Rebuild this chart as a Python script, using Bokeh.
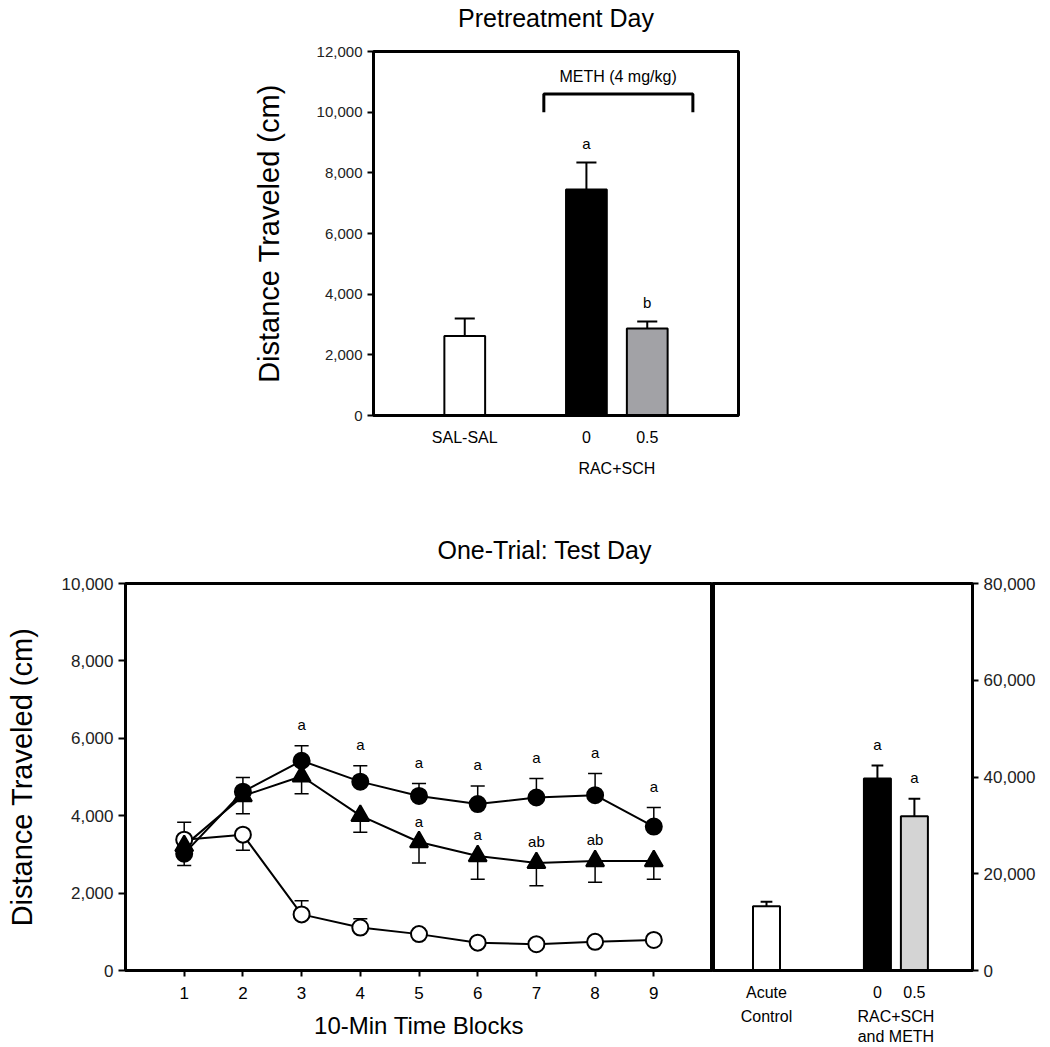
from bokeh.plotting import figure
from bokeh.layouts import column, row
from bokeh.models import (Range1d, LinearAxis, FixedTicker, NumeralTickFormatter,
                          ColumnDataSource, LabelSet, Span, Title)
from bokeh.core.properties import value
from bokeh.embed import file_html
from bokeh.resources import INLINE

FONT = "Liberation Sans"

# ---------------- data: Pretreatment Day ----------------
pre_groups = ["SAL-SAL", "0", "0.5"]
pre_means = [2620, 7450, 2870]
pre_sems = [580, 890, 230]
pre_sig = ["", "a", "b"]
pre_colors = ["white", "black", "#a2a2a6"]

# ---------------- data: One-Trial Test Day (time course) ----------------
blocks = [1, 2, 3, 4, 5, 6, 7, 8, 9]
meth0_mean = [3020, 4620, 5420, 4880, 4510, 4300, 4470, 4530, 3720]
meth0_sem = [310, 370, 390, 410, 320, 470, 490, 560, 490]
meth0_dir = [-1, 1, 1, 1, 1, 1, 1, 1, 1]
meth0_sig = ["", "", "a", "a", "a", "a", "a", "a", "a"]

meth05_mean = [3220, 4510, 5020, 4000, 3320, 2960, 2780, 2830, 2830]
meth05_sem = [0, 460, 450, 430, 540, 600, 590, 550, 470]
meth05_dir = [-1, -1, -1, -1, -1, -1, -1, -1, -1]
meth05_sig = ["", "", "", "", "a", "a", "ab", "ab", ""]

ctrl_mean = [3380, 3510, 1450, 1110, 940, 720, 680, 740, 790]
ctrl_sem = [450, 400, 350, 230, 100, 80, 60, 70, 60]
ctrl_dir = [1, -1, 1, 1, 1, 1, 1, 1, 1]

# ---------------- data: One-Trial Test Day (total) ----------------
tot_groups = ["Acute Control", "0", "0.5"]
tot_means = [13300, 39700, 31900]
tot_sems = [900, 2700, 3600]
tot_sig = ["", "a", "a"]
tot_colors = ["white", "black", "#d4d4d4"]


def style_axis(ax, lw=3, tick_out=6):
    ax.axis_line_width = lw
    ax.axis_line_color = "black"
    ax.major_tick_line_width = 2
    ax.major_tick_line_color = "black"
    ax.minor_tick_line_color = None
    ax.major_tick_in = 0
    ax.major_tick_out = tick_out
    ax.major_label_text_font = FONT
    ax.major_label_text_color = "#222222"
    ax.axis_label_text_font = FONT
    ax.axis_label_text_font_style = "normal"
    ax.axis_label_text_color = "black"
    ax.axis_label_text_line_height = 1.0


def bare_axis(ticks, labels, standoff, size):
    ax = LinearAxis(ticker=FixedTicker(ticks=ticks),
                    major_label_overrides={t: l for t, l in zip(ticks, labels)})
    style_axis(ax, tick_out=0)
    ax.axis_line_color = None
    ax.major_tick_line_color = None
    ax.major_label_standoff = standoff
    ax.major_label_text_font_size = size
    ax.major_label_text_color = "black"
    return ax


def err_segments(x, mean, sem, direction, half):
    tip = [m + d * s for m, s, d in zip(mean, sem, direction)]
    etop = [max(m, t) for m, t in zip(mean, tip)]
    return dict(x=list(x), m=list(mean), tip=tip, x0=[xi - half for xi in x],
                x1=[xi + half for xi in x], etop=etop)


def sig_labels(src, offset, **kw):
    return LabelSet(x="x", y="etop", text="sig", source=src, y_offset=offset,
                    text_align="center", text_baseline="middle", text_color="black",
                    text_font=value(FONT), text_font_size="15px", **kw)


# =============== Top figure ===============
pre_pos = [1.5, 3.5, 4.5]
p1 = figure(width=1050, height=508, x_range=Range1d(0, 6), y_range=Range1d(0, 12000),
            output_backend="svg", toolbar_location=None,
            min_border_left=373, min_border_right=312, min_border_top=51, min_border_bottom=93)
p1.grid.visible = False
p1.outline_line_color = "black"
p1.outline_line_width = 3
style_axis(p1.xaxis[0], tick_out=0)
style_axis(p1.yaxis[0])
p1.xaxis.ticker = FixedTicker(ticks=pre_pos)
p1.xaxis.major_label_overrides = {pos: g for pos, g in zip(pre_pos, pre_groups)}
p1.xaxis.major_tick_line_color = None
p1.xaxis.major_label_standoff = 13
p1.xaxis.major_label_text_font_size = "16px"
p1.xaxis.major_label_text_color = "black"
p1.yaxis.ticker = FixedTicker(ticks=list(range(0, 12001, 2000)))
p1.yaxis.formatter = NumeralTickFormatter(format="0,0")
p1.yaxis.major_label_text_font_size = "15px"
p1.yaxis.major_label_standoff = 5
p1.yaxis.axis_label = "Distance Traveled (cm)"
p1.yaxis.axis_label_text_font_size = "29px"
p1.yaxis.axis_label_standoff = 29
p1.add_layout(bare_axis([4.0], ["RAC+SCH"], 11, "16px"), "below")

# title of the top panel, carried by an unticked axis above the frame
top_ax = LinearAxis(ticker=FixedTicker(ticks=[]), axis_label="Pretreatment Day")
style_axis(top_ax, tick_out=0)
top_ax.axis_line_color = None
top_ax.major_label_standoff = 0
top_ax.axis_label_text_font_size = "25px"
top_ax.axis_label_standoff = 20
p1.add_layout(top_ax, "above")

d1 = err_segments(pre_pos, pre_means, pre_sems, [1, 1, 1], 0.165)
d1.update(color=pre_colors, sig=pre_sig)
src1 = ColumnDataSource(d1)
p1.segment(x0="x", y0="m", x1="x", y1="tip", source=src1, line_width=2, line_color="black")
p1.segment(x0="x0", y0="tip", x1="x1", y1="tip", source=src1, line_width=2, line_color="black")
p1.vbar(x="x", top="m", bottom=0, width=0.67, source=src1, fill_color="color",
        line_color="black", line_width=2)
p1.add_layout(sig_labels(src1, 19))
# bracket over the METH groups
p1.multi_line(xs=[[2.8, 2.8, 5.25, 5.25]], ys=[[10000, 10600, 10600, 10000]],
              line_width=3, line_color="black")
p1.text(x=[4.02], y=[11180], text=["METH (4 mg/kg)"], text_align="center",
        text_baseline="middle", text_font=value(FONT), text_font_size="16px", text_color="black")

# =============== Bottom-left figure (time course) ===============
p2 = figure(width=712, height=539, x_range=Range1d(0, 10), y_range=Range1d(0, 10000),
            output_backend="svg", toolbar_location=None,
            min_border_left=125, min_border_right=0, min_border_top=75, min_border_bottom=75)
p2.grid.visible = False
p2.outline_line_color = "black"
p2.outline_line_width = 3
style_axis(p2.xaxis[0])
style_axis(p2.yaxis[0], tick_out=7)
p2.xaxis.ticker = FixedTicker(ticks=blocks)
p2.xaxis.major_label_standoff = 10
p2.xaxis.major_label_text_font_size = "17px"
p2.xaxis.major_label_text_color = "black"
p2.xaxis.axis_label = "10-Min Time Blocks"
p2.xaxis.axis_label_text_font_size = "24px"
p2.xaxis.axis_label_standoff = 10
p2.yaxis.ticker = FixedTicker(ticks=list(range(0, 10001, 2000)))
p2.yaxis.formatter = NumeralTickFormatter(format="0,0")
p2.yaxis.major_label_text_font_size = "17px"
p2.yaxis.major_label_standoff = 5
p2.yaxis.axis_label = "Distance Traveled (cm)"
p2.yaxis.axis_label_text_font_size = "29px"
p2.yaxis.axis_label_standoff = 21
p2.title = Title(text="One-Trial: Test Day", align="left", offset=312, text_font=FONT,
                 text_font_size="25px", text_font_style="normal", text_color="black",
                 standoff=40)
p2.add_layout(Span(location=10, dimension="height", line_width=5, line_color="black"))

half = 0.12
series = [
    (ctrl_mean, ctrl_sem, ctrl_dir, None, "circle", "white"),
    (meth05_mean, meth05_sem, meth05_dir, meth05_sig, "triangle", "black"),
    (meth0_mean, meth0_sem, meth0_dir, meth0_sig, "circle", "black"),
]
for mean, *_ in series:
    p2.line(blocks, mean, line_width=2, line_color="black")
for mean, sem, d, sig, mk, fc in series:
    s = ColumnDataSource(err_segments(blocks, mean, sem, d, half))
    p2.segment(x0="x", y0="m", x1="x", y1="tip", source=s, line_width=1.5, line_color="black")
    p2.segment(x0="x0", y0="tip", x1="x1", y1="tip", source=s, line_width=1.5, line_color="black")
for mean, sem, d, sig, mk, fc in series:
    p2.scatter(blocks, mean, marker=mk, size=18 if mk == "triangle" else 16,
               fill_color=fc, line_color="black", line_width=2)
for mean, sem, d, sig, mk, fc in series:
    if sig is None:
        continue
    data = err_segments(blocks, mean, sem, d, half)
    data["sig"] = sig
    p2.add_layout(sig_labels(ColumnDataSource(data), 21))

# =============== Bottom-right figure (totals) ===============
p3 = figure(width=338, height=539, x_range=Range1d(0, 4.43), y_range=Range1d(0, 80000),
            y_axis_location="right", output_backend="svg", toolbar_location=None,
            min_border_left=0, min_border_right=78, min_border_top=75, min_border_bottom=75)
p3.grid.visible = False
p3.outline_line_color = "black"
p3.outline_line_width = 3
style_axis(p3.xaxis[0], tick_out=0)
style_axis(p3.yaxis[0])
p3.yaxis.ticker = FixedTicker(ticks=[0, 20000, 40000, 60000, 80000])
p3.yaxis.formatter = NumeralTickFormatter(format="0,0")
p3.yaxis.major_label_text_font_size = "17px"
p3.yaxis.major_label_standoff = 5
p3.add_layout(Span(location=0, dimension="height", line_width=5, line_color="black"))

tot_pos = [0.92, 2.81, 3.44]
first_row = [tot_groups[0].split(" ")[0], tot_groups[1], tot_groups[2]]
p3.xaxis.ticker = FixedTicker(ticks=tot_pos)
p3.xaxis.major_label_overrides = {t: l for t, l in zip(tot_pos, first_row)}
p3.xaxis.major_tick_line_color = None
p3.xaxis.major_label_standoff = 13
p3.xaxis.major_label_text_font_size = "16px"
p3.xaxis.major_label_text_color = "black"
mid = (tot_pos[1] + tot_pos[2]) / 2
p3.add_layout(bare_axis([tot_pos[0], mid], [tot_groups[0].split(" ")[1], "RAC+SCH\nand METH"],
                        4, "16px"), "below")

st = err_segments(tot_pos, tot_means, tot_sems, [1, 1, 1], 0.1)
st.update(color=tot_colors, sig=tot_sig)
src3 = ColumnDataSource(st)
p3.segment(x0="x", y0="m", x1="x", y1="tip", source=src3, line_width=2, line_color="black")
p3.segment(x0="x0", y0="tip", x1="x1", y1="tip", source=src3, line_width=2, line_color="black")
p3.vbar(x="x", top="m", bottom=0, width=0.46, source=src3, fill_color="color",
        line_color="black", line_width=2)
p3.add_layout(sig_labels(src3, 21))

layout = column(p1, row(p2, p3, spacing=0), spacing=0)
open("out.html", "w").write(file_html(layout, INLINE))
